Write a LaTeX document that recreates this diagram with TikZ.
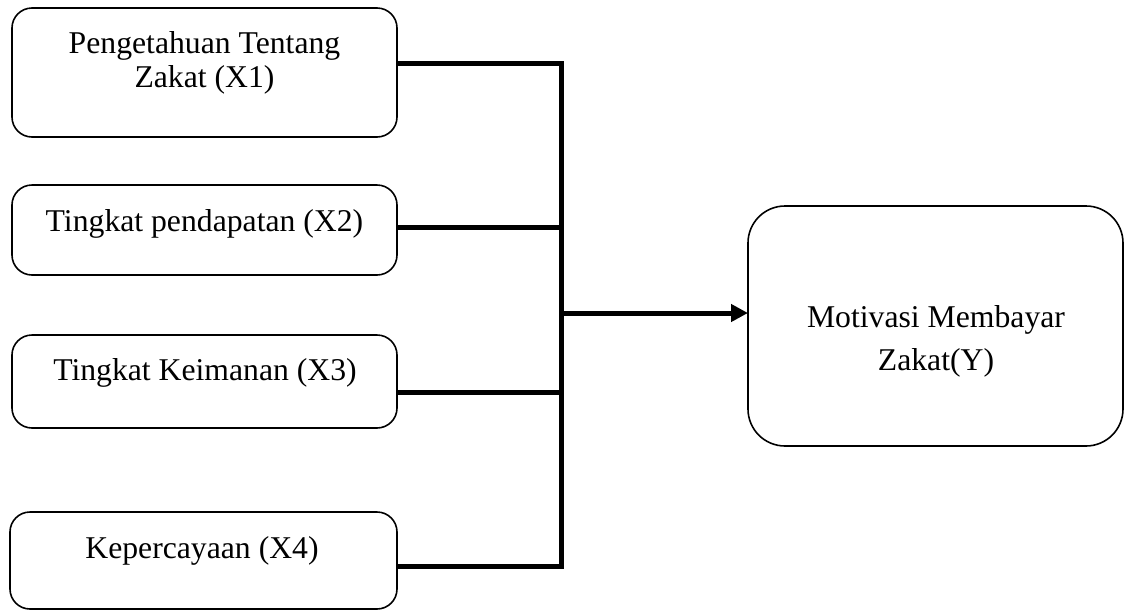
\documentclass[tikz,border=0pt]{standalone}
\usepackage{fontspec}
\setmainfont{Liberation Serif}
\usetikzlibrary{arrows.meta}
\begin{document}
\begin{tikzpicture}[x=1pt,y=-1pt,
  box/.style={draw=black,line width=1.6pt,rounded corners=20pt,inner sep=0pt,outer sep=0pt},
  bigbox/.style={box,rounded corners=37pt},
  lbl/.style={anchor=base,inner sep=0pt,font=\fontsize{31.7}{34}\selectfont},
  conn/.style={line width=5pt,line join=miter},
  arr/.style={conn,-{Triangle[length=17pt,width=17pt]}}]
\useasboundingbox (0,0) rectangle (1125,611);
\node[box,minimum width=385pt,minimum height=129pt] (b1) at (204.5,72.5) {};
\node[box,minimum width=385pt,minimum height=90pt] (b2) at (204.5,230) {};
\node[box,minimum width=385pt,minimum height=93pt] (b3) at (204.5,381.5) {};
\node[box,minimum width=387pt,minimum height=97pt] (b4) at (203.5,560.5) {};
\node[bigbox,minimum width=375pt,minimum height=240pt] (y) at (935.5,326) {};
\node[lbl] (t1a) at (204.5,53) {Pengetahuan Tentang};
\node[lbl] (t1b) at (204.5,87) {Zakat (X1)};
\node[lbl] (t2) at (204.5,231) {Tingkat pendapatan (X2)};
\node[lbl] (t3) at (205,380) {Tingkat Keimanan (X3)};
\node[lbl] (t4) at (202,558) {Kepercayaan (X4)};
\node[lbl] (ta) at (936,327) {Motivasi Membayar};
\node[lbl] (tb) at (936,370) {Zakat(Y)};
\coordinate (j1) at (561,63);
\coordinate (j2) at (561,227);
\coordinate (j3) at (561,392);
\coordinate (j4) at (561,566);
\coordinate (ja) at (561,313);
\draw[conn] (b1.east |- j1) -- (j1) -- (j4) -- (b4.east |- j4);
\draw[conn] (b2.east |- j2) -- (j2);
\draw[conn] (b3.east |- j3) -- (j3);
\draw[arr] (ja) -- (y.west |- ja);
\end{tikzpicture}
\end{document}
